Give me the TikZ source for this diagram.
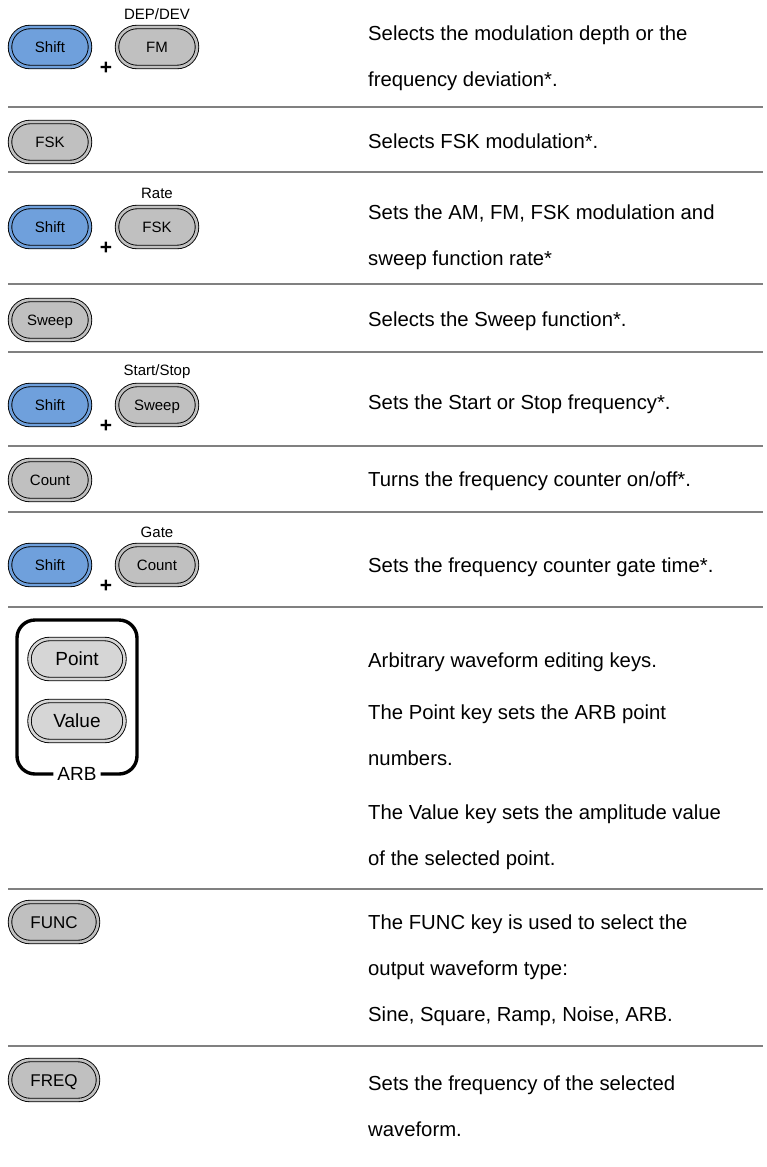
\documentclass[tikz,border=0pt]{standalone}
\usepackage{fontspec}
\setmainfont{Liberation Sans}
\usetikzlibrary{shapes.misc}
\definecolor{keyblue}{RGB}{111,160,220}
\definecolor{keygray}{RGB}{192,192,192}
\definecolor{keylight}{RGB}{214,214,214}
\definecolor{rulegray}{RGB}{128,128,128}
\begin{document}
\begin{tikzpicture}[x=1pt,y=-1pt,
  key/.style={rounded rectangle, draw=black, line width=0.9pt, double distance=2.6pt,
    inner sep=0pt, minimum height=40pt, minimum width=80pt,
    text height=10.7pt, text depth=0pt, font=\fontsize{15}{15}\selectfont},
  shiftkey/.style={key, fill=keyblue, double=keyblue},
  graykey/.style={key, fill=keygray, double=keygray},
  bigkey/.style={key, fill=keygray, double=keygray, minimum width=88pt,
    text height=12.2pt, font=\fontsize{17}{17}\selectfont},
  arbkey/.style={key, fill=keylight, double=keylight, minimum width=95pt,
    text height=13.6pt, font=\fontsize{19}{19}\selectfont},
  keylabel/.style={inner sep=0pt, text height=10.7pt, text depth=0pt, font=\fontsize{15}{15}\selectfont},
  plus/.style={inner sep=0pt, font=\fontsize{21}{21}\selectfont\bfseries},
  desc/.style={anchor=base west, inner sep=0pt, font=\fontsize{20.3}{20.3}\selectfont},
  rule/.style={draw=rulegray, line width=2pt},
  arbbox/.style={draw=black, line width=3.4pt, rounded corners=18pt}
]
\useasboundingbox (0,0) rectangle (767,1167);
\def\tx{368}
% ---- rules
\foreach \yy in {107,172,284,352,446,512,607,889,1046}
  \draw[rule] (8,\yy) -- (763,\yy);

% ---- Row 1
\node[shiftkey] (s1) at (50,47) {Shift};
\node[graykey] (fm) at (157,47) {FM};
\node[keylabel] (l1) at (157,14) {DEP/DEV};
\node[plus] (p1) at (106,68) {+};
\node[desc] (t1a) at (\tx,40.5) {Selects the modulation depth or the};
\node[desc] (t1b) at (\tx,86.5) {frequency deviation*.};

% ---- Row 2
\node[graykey] (fsk) at (50,142) {FSK};
\node[desc] (t2) at (\tx,148.5) {Selects FSK modulation*.};

% ---- Row 3
\node[shiftkey] (s3) at (50,227) {Shift};
\node[graykey] (fsk2) at (157,227) {FSK};
\node[keylabel] (l3) at (157,193) {Rate};
\node[plus] (p3) at (106,248) {+};
\node[desc] (t3a) at (\tx,219.5) {Sets the AM, FM, FSK modulation and};
\node[desc] (t3b) at (\tx,265.5) {sweep function rate*};

% ---- Row 4
\node[graykey] (sw) at (50,320) {Sweep};
\node[desc] (t4) at (\tx,326.5) {Selects the Sweep function*.};

% ---- Row 5
\node[shiftkey] (s5) at (50,405) {Shift};
\node[graykey] (sw2) at (157,405) {Sweep};
\node[keylabel] (l5) at (157,370) {Start/Stop};
\node[plus] (p5) at (106,426) {+};
\node[desc] (t5) at (\tx,409.5) {Sets the Start or Stop frequency*.};

% ---- Row 6
\node[graykey] (cnt) at (50,480) {Count};
\node[desc] (t6) at (\tx,486.5) {Turns the frequency counter on/off*.};

% ---- Row 7
\node[shiftkey] (s7) at (50,565) {Shift};
\node[graykey] (cnt2) at (157,565) {Count};
\node[keylabel] (l7) at (157,532) {Gate};
\node[plus] (p7) at (106,586) {+};
\node[desc] (t7) at (\tx,572.5) {Sets the frequency counter gate time*.};

% ---- Row 8 (ARB)
\node[arbkey] (pt) at (77,659) {Point};
\node[arbkey] (val) at (77,721) {Value};
\node[inner sep=0pt, text height=13.6pt, text depth=0pt, font=\fontsize{19}{19}\selectfont] (arb) at (77,774) {ARB};
\draw[arbbox] (arb.west) ++(-4,0) -- (17,774) -- (17,620) -- (137,620) -- (137,774) -- ([xshift=4pt]arb.east);
\node[desc] (t8a) at (\tx,667.5) {Arbitrary waveform editing keys.};
\node[desc] (t8b) at (\tx,719.5) {The Point key sets the ARB point};
\node[desc] (t8c) at (\tx,765.5) {numbers.};
\node[desc] (t8d) at (\tx,819.5) {The Value key sets the amplitude value};
\node[desc] (t8e) at (\tx,865.5) {of the selected point.};

% ---- Row 9
\node[bigkey] (func) at (54,922) {FUNC};
\node[desc] (t9a) at (\tx,929.5) {The FUNC key is used to select the};
\node[desc] (t9b) at (\tx,975.5) {output waveform type:};
\node[desc] (t9c) at (\tx,1021.5) {Sine, Square, Ramp, Noise, ARB.};

% ---- Row 10
\node[bigkey] (freq) at (54,1080) {FREQ};
\node[desc] (t10a) at (\tx,1090.5) {Sets the frequency of the selected};
\node[desc] (t10b) at (\tx,1136.5) {waveform.};
\end{tikzpicture}
\end{document}
